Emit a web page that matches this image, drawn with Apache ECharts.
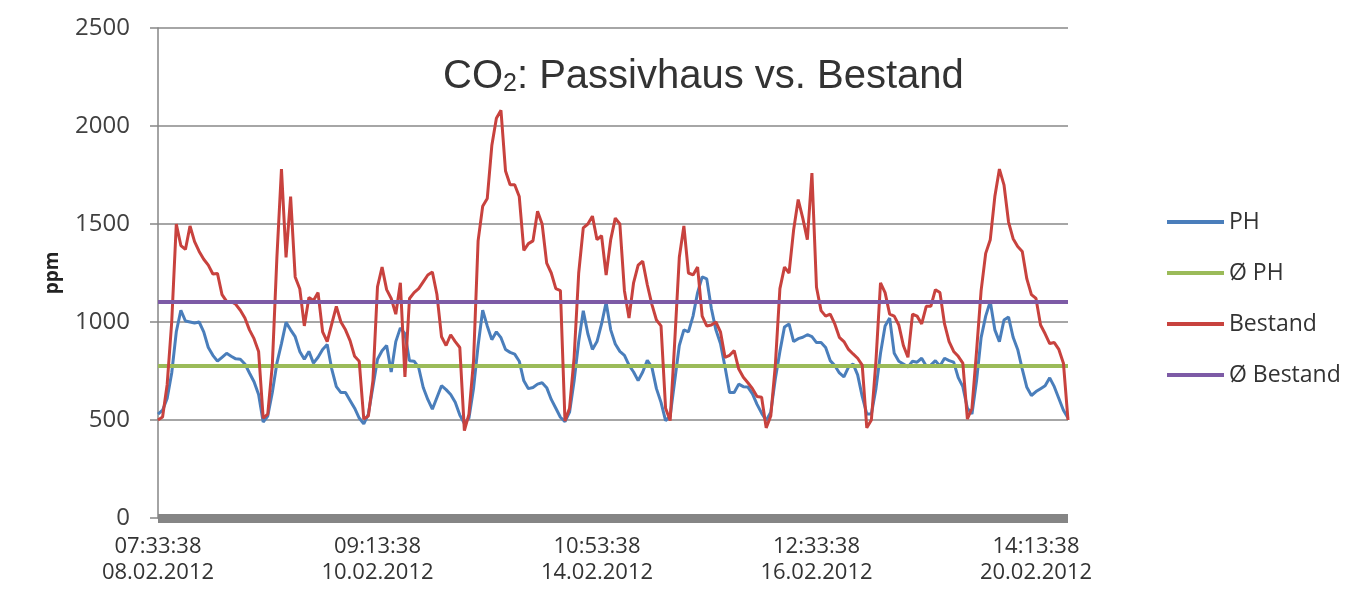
<!DOCTYPE html>
<html>
<head>
<meta charset="utf-8">
<title>CO2: Passivhaus vs. Bestand</title>
<script src="https://cdn.jsdelivr.net/npm/echarts@6/dist/echarts.min.js"></script>
<style>
  html, body { margin: 0; padding: 0; background: #fff; }
  #myChart { width: 1362px; height: 594px; }
</style>
</head>
<body>
<div id="myChart"></div>
<script>
const phValues = [
  530, 550, 610, 740, 950, 1060, 1005, 1000, 995, 1000,
  950, 870, 830, 800, 820, 840, 825, 812, 810, 786,
  740, 695, 630, 490, 520, 640, 790, 890, 998, 960,
  925, 850, 810, 850, 790, 820, 860, 885, 760, 670,
  640, 640, 600, 560, 510, 480, 530, 670, 810, 853,
  880, 745, 900, 970, 940, 802, 800, 768, 666, 605,
  555, 615, 675, 655, 630, 590, 525, 482, 510, 660,
  880, 1060, 980, 910, 950, 920, 860, 845, 836, 800,
  700, 660, 666, 683, 690, 665, 605, 560, 514, 492,
  540, 700, 900, 1057, 940, 860, 900, 990, 1100, 960,
  888, 850, 830, 780, 745, 701, 745, 805, 770, 660,
  590, 497, 520, 700, 880, 960, 950, 1030, 1150, 1230,
  1220, 1070, 960, 890, 770, 640, 640, 683, 670, 668,
  633, 580, 535, 497, 540, 710, 850, 975, 990, 900,
  915, 922, 935, 925, 895, 895, 870, 803, 778, 740,
  720, 770, 786, 730, 620, 531, 530, 660, 840, 980,
  1020, 840, 800, 786, 770, 800, 795, 815, 775, 780,
  803, 775, 815, 803, 795, 716, 670, 560, 531, 700,
  920, 1030, 1105, 960, 900, 1010, 1025, 922, 860, 760,
  667, 625, 645, 660, 675, 715, 670, 610, 550, 510
];
const bestandValues = [
  500, 515, 680, 1000, 1500, 1390, 1370, 1490, 1410, 1360,
  1320, 1290, 1245, 1248, 1140, 1105, 1105, 1090, 1060, 1020,
  960, 915, 850, 510, 530, 780, 1330, 1780, 1330, 1640,
  1230, 1170, 980, 1125, 1110, 1150, 950, 900, 990, 1080,
  1000, 960, 905, 825, 800, 505, 520, 700, 1180, 1280,
  1165, 1120, 1040, 1200, 720, 1120, 1150, 1170, 1205, 1240,
  1255, 1140, 925, 880, 935, 900, 870, 446, 530, 800,
  1414, 1590, 1630, 1900, 2040, 2080, 1770, 1700, 1700, 1640,
  1365, 1400, 1414, 1565, 1500, 1300, 1250, 1170, 1160, 495,
  560, 820, 1250, 1480, 1500, 1540, 1420, 1440, 1240, 1420,
  1530, 1500, 1160, 1020, 1200, 1290, 1310, 1190, 1090, 1010,
  980, 560, 497, 900, 1330, 1490, 1250, 1240, 1280, 1030,
  980, 985, 1000, 950, 820, 830, 854, 760, 718, 690,
  660, 620, 616, 460, 520, 780, 1170, 1280, 1250, 1470,
  1625, 1530, 1420, 1760, 1177, 1058, 1030, 1040, 990, 922,
  900, 860, 837, 815, 780, 460, 500, 800, 1200, 1150,
  1040, 1030, 985, 880, 820, 1040, 1030, 990, 1080, 1080,
  1165, 1150, 990, 900, 850, 825, 790, 505, 560, 850,
  1160, 1350, 1420, 1640, 1780, 1700, 1510, 1425, 1385, 1360,
  1220, 1140, 1120, 985, 940, 890, 895, 860, 790, 500
];
// Mittelwerte
const phMean = 776;
const bestandMean = 1102;

// Beschriftung der x-Achse (jeder 48. Messpunkt)
const tickLabels = [
  '07:33:38\n08.02.2012',
  '09:13:38\n10.02.2012',
  '10:53:38\n14.02.2012',
  '12:33:38\n16.02.2012',
  '14:13:38\n20.02.2012'
];
const labelStep = 48;
const yTicks = [0, 500, 1000, 1500, 2000, 2500];

const categories = phValues.map((v, i) => i);

function drawLine() {
  let myChart = echarts.init(document.getElementById('myChart'));
  myChart.setOption({
    animation: false,
    backgroundColor: '#fff',
    title: {
      text: '{a|CO}{b|2}{a|: Passivhaus vs. Bestand}',
      left: 443,
      top: 51,
      padding: 0,
      textStyle: {
        fontWeight: 'normal',
        rich: {
          a: { fontSize: 40, fontFamily: 'Liberation Sans', fontWeight: 'normal', color: '#333', lineHeight: 46, verticalAlign: 'bottom' },
          b: { fontSize: 25, fontFamily: 'Liberation Sans', fontWeight: 'normal', color: '#333', lineHeight: 20, verticalAlign: 'bottom' }
        }
      }
    },
    legend: {
      orient: 'vertical',
      left: 1167,
      top: 210,
      padding: 0,
      icon: 'rect',
      itemWidth: 57,
      itemHeight: 4,
      itemGap: 27,
      data: ['PH', 'Ø PH', 'Bestand', 'Ø Bestand'],
      textStyle: { fontFamily: 'Open Sans', fontSize: 23, lineHeight: 24, color: '#333' }
    },
    grid: {
      left: 158,
      right: 294,
      top: 28,
      bottom: 76
    },
    xAxis: {
      type: 'category',
      boundaryGap: false,
      data: categories,
      axisLine: { lineStyle: { color: '#858585', width: 9, cap: 'butt' } },
      axisTick: { show: false },
      axisLabel: {
        interval: labelStep - 1,
        margin: 16,
        fontFamily: 'Open Sans',
        fontSize: 22,
        lineHeight: 26,
        color: '#333',
        formatter: (v, i) => (i % labelStep === 0 ? tickLabels[i / labelStep] : '')
      }
    },
    yAxis: {
      type: 'value',
      min: yTicks[0],
      max: yTicks[yTicks.length - 1],
      interval: yTicks[1] - yTicks[0],
      name: 'ppm',
      nameLocation: 'middle',
      nameGap: 96,
      nameTextStyle: { fontFamily: 'Open Sans', fontSize: 19, fontWeight: 'bold', color: '#222' },
      axisLine: { show: true, lineStyle: { color: '#868686', width: 1.5 } },
      axisTick: { show: true, length: 8, lineStyle: { color: '#868686', width: 1.5 } },
      axisLabel: {
        margin: 28,
        fontFamily: 'Open Sans',
        fontSize: 24,
        color: '#404040',
        formatter: v => String(v)
      },
      splitLine: { lineStyle: { color: '#888', width: 1.5 } }
    },
    series: [
      {
        name: 'PH',
        type: 'line',
        z: 2,
        symbol: 'none',
        color: '#4A7EBB',
        lineStyle: { width: 3 },
        data: phValues
      },
      {
        name: 'Ø PH',
        type: 'line',
        z: 3,
        symbol: 'none',
        color: '#9BBB59',
        data: [],
        markLine: {
          z: 3,
          silent: true,
          symbol: 'none',
          label: { show: false },
          lineStyle: { color: '#9BBB59', width: 4, type: 'solid' },
          data: [{ yAxis: phMean }]
        }
      },
      {
        name: 'Bestand',
        type: 'line',
        z: 4,
        symbol: 'none',
        color: '#C8423E',
        lineStyle: { width: 3 },
        data: bestandValues
      },
      {
        name: 'Ø Bestand',
        type: 'line',
        z: 5,
        symbol: 'none',
        color: '#7D5BA6',
        data: [],
        markLine: {
          z: 5,
          silent: true,
          symbol: 'none',
          label: { show: false },
          lineStyle: { color: '#7D5BA6', width: 4, type: 'solid' },
          data: [{ yAxis: bestandMean }]
        }
      }
    ]
  });
}

drawLine();
</script>
</body>
</html>
